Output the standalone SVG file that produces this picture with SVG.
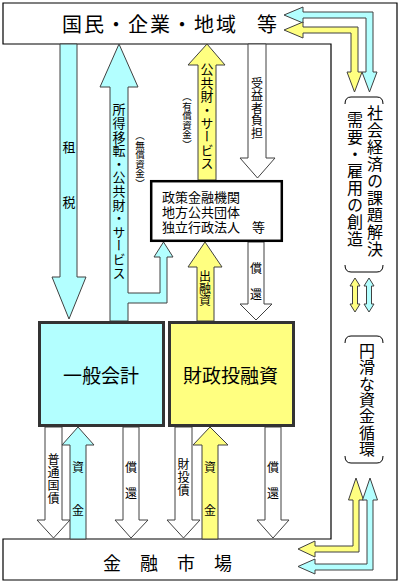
<svg xmlns="http://www.w3.org/2000/svg" width="400" height="583" viewBox="0 0 400 583">
<style>
text{font-family:"Noto Sans CJK JP","Noto Sans CJK SC",sans-serif;fill:#000}
.v{writing-mode:vertical-rl;text-orientation:mixed}
.big{font-size:19px}
.m{font-size:13px}
.s{font-size:12px}
.xs{font-size:9.5px}
.r{font-size:16px}
.cy{fill:#b3ffff;stroke:#404040;stroke-width:1}
.ye{fill:#ffff80;stroke:#404040;stroke-width:1}
.wh{fill:#ffffff;stroke:#404040;stroke-width:1}
.br{fill:none;stroke:#000;stroke-width:1}
</style>
<rect width="400" height="583" fill="#fff"/>
<g id="frame">
<path d="M3,3 H397 V580 H3 V539 H331 V44 H3 Z" fill="#fff" stroke="#000" stroke-width="1.2"/>
</g>
<g id="connectors">
<polygon class="cy" points="60,44 77,44 77,277 86,277 69,319 52,277 60,277"/>
<polygon class="cy" points="119,44 138,87 128,87 128,293 160,293 160,257 154,257 163.5,242 173,257 167,257 167,303 128,303 128,321 110,321 110,87 100,87"/>
<polygon class="ye" points="207,44 225,65 216,65 216,180 198,180 198,65 188,65"/>
<polygon class="wh" points="248,44 266,44 266,158 275,158 257.5,178 240,158 248,158"/>
<polygon class="ye" points="205,242 222,267 214,267 214,321 197,321 197,267 188,267"/>
<polygon class="wh" points="248,242 264,242 264,304 272,304 256,320 240,304 248,304"/>
<polygon class="wh" points="45,427 62,427 62,520 70,520 53.5,538 37,520 45,520"/>
<polygon class="cy" points="78,427 94,445 86,445 86,539 70,539 70,445 62,445"/>
<polygon class="wh" points="123,427 139,427 139,520 148,520 131,538 115,520 123,520"/>
<polygon class="wh" points="175,427 192,427 192,520 200,520 183.5,538 167,520 175,520"/>
<polygon class="ye" points="210,427 228,445 218,445 218,539 202,539 202,445 193,445"/>
<polygon class="wh" points="265,427 281,427 281,520 289,520 273,538 257,520 265,520"/>
<polygon class="cy" points="284,15 303,7 303,12 373,12 373,72 377,72 369.5,92 362,72 366,72 366,18 303,18 303,23"/>
<polygon class="ye" points="284,30 303,22 303,27 358,27 358,72 362,72 354.5,92 347,72 351,72 351,33 303,33 303,38"/>
<polygon class="ye" points="356,478 363.5,500 359,500 359,552 315,552 315,557 298,549 315,541 315,546 353,546 353,500 348.5,500"/>
<polygon class="cy" points="370,478 377.5,500 373,500 373,570 315,570 315,574 298,566.5 315,559 315,564 367,564 367,500 362.5,500"/>
<polygon class="ye" points="355,278 360,286 357.5,286 357.5,304 360,304 355,312 350,304 352.5,304 352.5,286 350,286"/>
<polygon class="cy" points="369,278 374,286 371.5,286 371.5,304 374,304 369,312 364,304 366.5,304 366.5,286 364,286"/>
</g>
<g id="top">
<text x="62" y="32" style="font-size:20px;letter-spacing:2px">国民・企業・地域<tspan x="257">等</tspan></text>
</g>
<g id="bottom">
<text x="103" y="570" style="font-size:18px;letter-spacing:19px">金融市場</text>
</g>
<g id="general">
<rect x="39.5" y="322.5" width="124" height="103" fill="#b3ffff" stroke="#333" stroke-width="3"/>
<text x="63" y="383" class="big">一般会計</text>
</g>
<g id="filp">
<rect x="169.5" y="322.5" width="124" height="103" fill="#ffff80" stroke="#333" stroke-width="3"/>
<text x="183" y="383" class="big">財政投融資</text>
</g>
<g id="agencies">
<rect x="151.2" y="181.2" width="130.6" height="59.6" fill="#fff" stroke="#000" stroke-width="2.5"/>
<text x="162" y="202" class="m">政策金融機関<tspan x="162" y="217">地方公共団体</tspan><tspan x="162" y="232">独立行政法人</tspan><tspan x="252" y="232">等</tspan></text>
</g>
<g id="labels">
<text x="69" y="152" class="m" text-anchor="middle">租</text>
<text x="69" y="207" class="m" text-anchor="middle">税</text>
<text x="119" y="103" class="v m" style="letter-spacing:0.6px">所得移転・公共財・サービス</text>
<text x="140" y="131" class="v xs">（無償資金）</text>
<text x="207" y="63" class="v m" style="letter-spacing:0.4px">公共財・サービス</text>
<text x="187" y="92" class="v xs">（有償資金）</text>
<text x="257" y="77" class="v s" style="letter-spacing:0.6px">受益者負担</text>
<text x="205" y="270" class="v s" style="letter-spacing:0.4px">出融資</text>
<text x="256" y="273" class="s" text-anchor="middle">償</text>
<text x="256" y="299" class="s" text-anchor="middle">還</text>
<text x="53.5" y="453" class="v s" style="letter-spacing:1px">普通国債</text>
<text x="78" y="472" class="s" text-anchor="middle">資</text>
<text x="78" y="515" class="s" text-anchor="middle">金</text>
<text x="131" y="472" class="s" text-anchor="middle">償</text>
<text x="131" y="498" class="s" text-anchor="middle">還</text>
<text x="183.5" y="458" class="v s" style="letter-spacing:1px">財投債</text>
<text x="210" y="472" class="s" text-anchor="middle">資</text>
<text x="210" y="515" class="s" text-anchor="middle">金</text>
<text x="273" y="472" class="s" text-anchor="middle">償</text>
<text x="273" y="498" class="s" text-anchor="middle">還</text>
</g>
<g id="right-labels">
<path class="br" d="M345,104 Q345,97 351,97 H377 Q383,97 383,104"/>
<path class="br" d="M345,265 Q345,272 351,272 H377 Q383,272 383,265"/>
<text x="375" y="105" class="v r" style="letter-spacing:1px">社会経済の課題解決</text>
<text x="355" y="112" class="v r" style="letter-spacing:1px">需要・雇用の創造</text>
<path class="br" d="M345,343 Q345,336 351,336 H377 Q383,336 383,343"/>
<path class="br" d="M345,456 Q345,463 351,463 H377 Q383,463 383,456"/>
<text x="367" y="343" class="v r" style="letter-spacing:0.3px">円滑な資金循環</text>
</g>
</svg>
